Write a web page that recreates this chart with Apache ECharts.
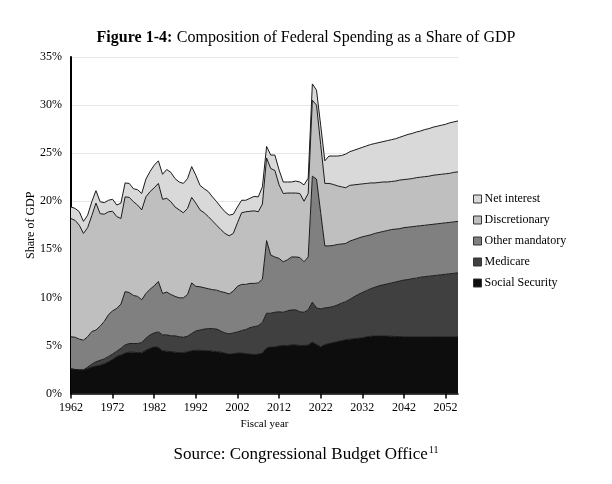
<!DOCTYPE html>
<html lang="en">
<head>
    <meta charset="UTF-8">
    <title>Composition of Federal Spending</title>
    <script src="https://cdn.jsdelivr.net/npm/echarts@6/dist/echarts.min.js"></script>
    <style>
        html, body { margin: 0; padding: 0; background: #fff; }
    </style>
</head>
<body>
<div id="main" style="width: 612px;height:484px;"></div>
<script type="text/javascript">
    var myChart = echarts.init(document.getElementById('main'));

    // fiscal years 1962 - 2055
    var years = [];
    for (var y = 1962; y <= 2055; y++) {
        years.push(String(y));
    }

    // shares of GDP (%)
    var socialSecurity = [
        2.55, 2.5, 2.45, 2.45, 2.6, 2.75, 2.85, 2.95, 3.1, 3.3,
        3.55, 3.85, 4.0, 4.2, 4.3, 4.3, 4.25, 4.25, 4.5, 4.7,
        4.85, 4.8, 4.45, 4.4, 4.35, 4.3, 4.25, 4.25, 4.35, 4.45,
        4.5, 4.5, 4.45, 4.45, 4.4, 4.35, 4.3, 4.2, 4.1, 4.15,
        4.2, 4.2, 4.15, 4.1, 4.05, 4.1, 4.2, 4.75, 4.85, 4.85,
        4.95, 5.0, 5.0, 5.05, 5.05, 5.0, 5.0, 5.05, 5.35, 5.1,
        4.85, 5.1, 5.2, 5.3, 5.4, 5.5, 5.6, 5.65, 5.7, 5.75,
        5.8, 5.9, 5.95, 6.0, 6.0, 6.0, 5.98, 5.95, 5.93, 5.92,
        5.9, 5.9, 5.9, 5.9, 5.9, 5.9, 5.9, 5.9, 5.9, 5.9,
        5.9, 5.9, 5.9, 5.9
    ];
    var medicare = [
        0, 0, 0, 0, 0.15, 0.3, 0.45, 0.5, 0.5, 0.55,
        0.55, 0.55, 0.7, 0.85, 0.9, 0.9, 0.95, 1.05, 1.25, 1.4,
        1.45, 1.6, 1.65, 1.7, 1.65, 1.7, 1.65, 1.6, 1.6, 1.8,
        2.0, 2.1, 2.25, 2.3, 2.35, 2.35, 2.2, 2.1, 2.1, 2.15,
        2.2, 2.35, 2.5, 2.75, 2.9, 2.95, 3.2, 3.6, 3.5, 3.6,
        3.55, 3.45, 3.6, 3.65, 3.65, 3.5, 3.45, 3.65, 4.15, 3.8,
        3.95, 3.8, 3.75, 3.75, 3.8, 3.9, 3.95, 4.15, 4.35, 4.55,
        4.7, 4.8, 4.95, 5.05, 5.2, 5.3, 5.42, 5.55, 5.67, 5.78,
        5.9, 5.95, 6.05, 6.1, 6.2, 6.25, 6.3, 6.35, 6.4, 6.45,
        6.5, 6.55, 6.6, 6.65
    ];
    var otherMandatory = [
        3.35, 3.35, 3.2, 3.1, 3.15, 3.4, 3.3, 3.55, 3.9, 4.35,
        4.5, 4.45, 4.6, 5.55, 5.3, 5.0, 4.9, 4.45, 4.65, 4.75,
        4.9, 5.25, 4.3, 4.45, 4.3, 4.1, 4.05, 4.1, 4.35, 5.25,
        4.65, 4.5, 4.3, 4.15, 4.05, 4.05, 4.1, 4.2, 4.15, 4.35,
        4.75, 4.8, 4.7, 4.6, 4.5, 4.45, 4.5, 7.55, 6.05, 5.75,
        5.55, 5.25, 5.3, 5.5, 5.5, 5.65, 5.25, 5.5, 13.1, 13.4,
        10.0, 6.45, 6.4, 6.35, 6.3, 6.15, 6.05, 6.05, 5.95, 5.85,
        5.8, 5.7, 5.6, 5.6, 5.55, 5.55, 5.55, 5.55, 5.5, 5.45,
        5.45, 5.45, 5.4, 5.4, 5.35, 5.35, 5.35, 5.35, 5.35, 5.35,
        5.35, 5.35, 5.35, 5.35
    ];
    var discretionary = [
        12.3, 12.15, 11.85, 11.1, 11.35, 12.05, 13.2, 11.7, 11.15, 10.7,
        10.35, 9.55, 8.9, 9.85, 9.9, 9.75, 9.5, 9.35, 10.05, 10.15,
        10.2, 10.2, 9.8, 9.75, 9.65, 9.3, 9.15, 8.85, 8.95, 8.9,
        8.65, 8.0, 7.8, 7.5, 7.15, 6.75, 6.45, 6.15, 6.05, 6.0,
        6.6, 7.45, 7.55, 7.5, 7.55, 7.4, 7.8, 8.6, 9.0, 9.0,
        7.65, 7.1, 6.95, 6.65, 6.65, 6.65, 6.3, 6.6, 7.9, 7.7,
        7.1, 6.5, 6.5, 6.35, 6.1, 5.95, 5.8, 5.8, 5.7, 5.6,
        5.5, 5.45, 5.4, 5.25, 5.2, 5.15, 5.05, 5.0, 5.0, 5.05,
        5.0, 5.0, 5.0, 5.05, 5.05, 5.05, 5.05, 5.1, 5.1, 5.1,
        5.1, 5.1, 5.15, 5.15
    ];
    var netInterest = [
        1.2, 1.25, 1.4, 1.25, 1.3, 1.45, 1.3, 1.25, 1.2, 1.2,
        1.25, 1.2, 1.6, 1.45, 1.45, 1.35, 1.6, 1.7, 1.85, 2.1,
        2.35, 2.35, 2.6, 3.0, 3.05, 2.95, 2.9, 3.05, 3.1, 3.2,
        2.9, 2.55, 2.5, 2.6, 2.5, 2.45, 2.35, 2.25, 2.15, 2.0,
        1.65, 1.3, 1.2, 1.35, 1.5, 1.55, 1.8, 1.2, 1.4, 1.6,
        1.55, 1.2, 1.15, 1.15, 1.25, 1.2, 1.7, 1.6, 1.7, 1.55,
        2.0, 2.35, 2.85, 2.95, 3.1, 3.25, 3.5, 3.5, 3.6, 3.7,
        3.8, 3.9, 4.0, 4.1, 4.15, 4.2, 4.3, 4.35, 4.4, 4.45,
        4.55, 4.65, 4.7, 4.75, 4.8, 4.9, 4.95, 5.0, 5.05, 5.1,
        5.15, 5.25, 5.25, 5.3
    ];

    var names = ['Social Security', 'Medicare', 'Other mandatory', 'Discretionary', 'Net interest'];
    var values = [socialSecurity, medicare, otherMandatory, discretionary, netInterest];
    var colorList = ['#0d0d0d', '#404040', '#808080', '#bfbfbf', '#d9d9d9'];

    var serif = '"Liberation Serif", "Times New Roman", serif';

    var series = [];
    for (var i = 0; i < names.length; i++) {
        series.push({
            name: names[i],
            type: 'line',
            stack: 'total',
            symbol: 'none',
            smooth: false,
            lineStyle: { width: 1, color: '#1a1a1a' },
            areaStyle: { color: colorList[i], opacity: 1 },
            itemStyle: { color: colorList[i], borderColor: '#333', borderWidth: 1 },
            emphasis: { disabled: true },
            data: values[i]
        });
    }

    var option = {
        backgroundColor: '#fff',
        animation: false,
        textStyle: { fontFamily: serif },
        title: [{
            left: 'center',
            top: 24,
            text: '{b|Figure 1-4:} {n|Composition of Federal Spending as a Share of GDP}',
            textStyle: {
                fontWeight: 'normal',
                rich: {
                    b: { fontFamily: serif, fontSize: 16, fontWeight: 'bold', color: '#000' },
                    n: { fontFamily: serif, fontSize: 16, fontWeight: 'normal', color: '#000' }
                }
            }
        }, {
            left: 'center',
            top: 440,
            text: '{n|Source: Congressional Budget Office}{s|11}',
            textStyle: {
                fontWeight: 'normal',
                rich: {
                    n: { fontFamily: serif, fontSize: 17, fontWeight: 'normal', color: '#000' },
                    s: { fontFamily: serif, fontSize: 10, fontWeight: 'normal', color: '#000', verticalAlign: 'top', padding: [0, 0, 9, 1] }
                }
            }
        }],
        legend: {
            orient: 'vertical',
            left: 468,
            top: 188,
            itemWidth: 8,
            itemHeight: 8,
            itemGap: 9,
            icon: 'rect',
            data: ['Net interest', 'Discretionary', 'Other mandatory', 'Medicare', 'Social Security'],
            itemStyle: { borderColor: '#333', borderWidth: 1 },
            textStyle: { fontFamily: serif, fontSize: 12, color: '#000', padding: [0, 0, 0, -2] }
        },
        grid: {
            left: 71,
            right: 154,
            top: 57,
            bottom: 90.5
        },
        xAxis: {
            type: 'category',
            data: years,
            boundaryGap: false,
            name: 'Fiscal year',
            nameLocation: 'middle',
            nameGap: 25,
            nameTextStyle: { fontFamily: serif, fontSize: 11, color: '#000' },
            axisLine: { lineStyle: { color: '#000', width: 1.5 } },
            axisTick: { interval: 9, length: 5, lineStyle: { color: '#000', width: 1.5 } },
            axisLabel: { interval: 9, fontFamily: serif, fontSize: 12, color: '#000', margin: 8 },
            splitLine: { show: false }
        },
        yAxis: {
            type: 'value',
            min: 0,
            max: 35,
            interval: 5,
            name: 'Share of GDP',
            nameLocation: 'middle',
            nameGap: 34,
            nameMoveOverlap: false,
            nameTextStyle: { fontFamily: serif, fontSize: 12, color: '#000' },
            axisLine: { show: true, lineStyle: { color: '#000', width: 2 } },
            axisTick: { show: false },
            axisLabel: { formatter: '{value}%', fontFamily: serif, fontSize: 12, color: '#000', margin: 9 },
            splitLine: { lineStyle: { color: '#e6e6e6', width: 1 } }
        },
        series: series
    };

    myChart.setOption(option);
</script>
</body>
</html>
